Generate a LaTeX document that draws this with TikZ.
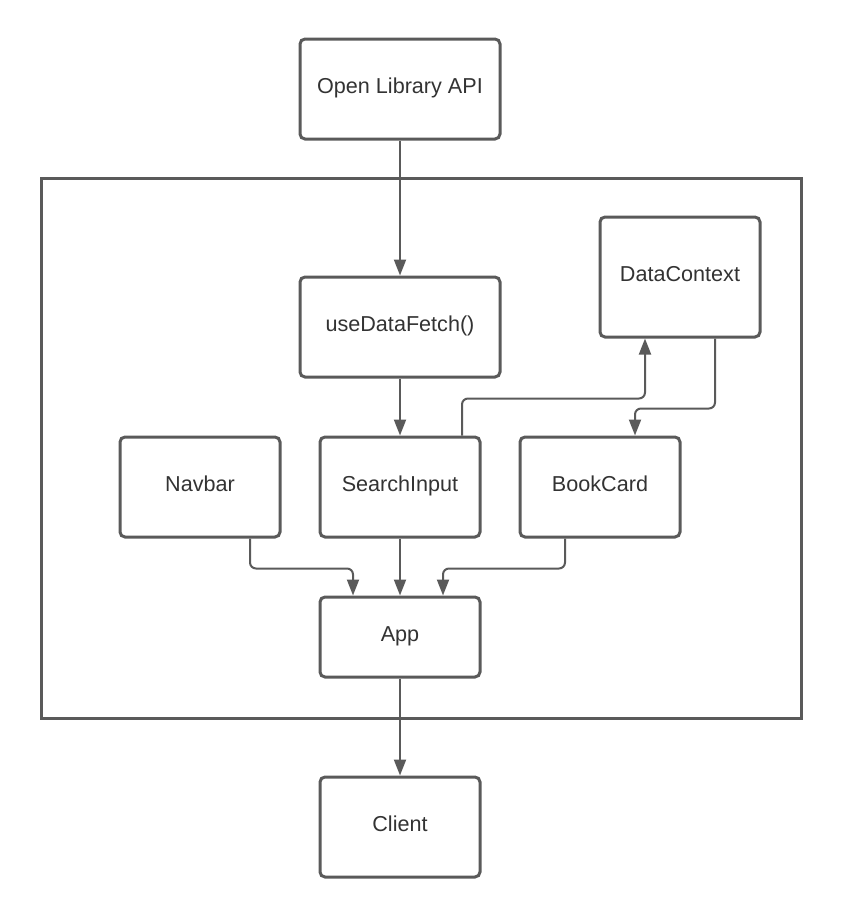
\documentclass[tikz,border=0pt]{standalone}
\usepackage{fontspec}
\setmainfont{Liberation Sans}
\usetikzlibrary{arrows.meta, calc}
\definecolor{linegray}{HTML}{5A5A5A}
\definecolor{textgray}{HTML}{333333}

\begin{document}
\begin{tikzpicture}[x=0.5pt,y=-0.5pt,
    box/.style={draw=linegray,line width=1.5pt,rounded corners=2.5pt,fill=white,
                text=textgray,font=\fontsize{10.8}{13}\selectfont,
                text height=8pt,text depth=3.5pt,
                minimum width=80pt,minimum height=50pt,inner sep=0pt},
    flow/.style={draw=linegray,line width=1pt,rounded corners=3pt,
                 -{Triangle[width=6pt,length=8pt]}}]
    \useasboundingbox (0,0) rectangle (843,917);
    \draw[linegray,line width=1.5pt] (41,178) rectangle (801,718);

    \node[box,minimum width=100pt] (api) at (400,89) {Open Library API};
    \node[box,minimum width=100pt] (fetch) at (400,327) {useDataFetch()};
    \node[box,minimum height=60pt] (context) at (680,277) {DataContext};
    \node[box] (nav) at (200,487) {Navbar};
    \node[box] (search) at (400,487) {SearchInput};
    \node[box] (card) at (600,487) {BookCard};
    \node[box,minimum height=40pt] (app) at (400,637) {App};
    \node[box,minimum height=50pt] (client) at (400,827) {Client};

    \path[flow] (api) -- (fetch);
    \path[flow] (fetch) -- (search);
    \path[flow] ($(search.north)+(62,0)$) -- ++(0,-37) -| ($(context.south)+(-35,0)$);
    \path[flow] ($(context.south)+(35,0)$) -- ++(0,70) -| ($(card.north)+(35,0)$);
    \path[flow] ($(nav.south)+(50,0)$) -- ++(0,30) -| ($(app.north)+(-47,0)$);
    \path[flow] (search) -- (app);
    \path[flow] ($(card.south)+(-35,0)$) -- ++(0,30) -| ($(app.north)+(43,0)$);
    \path[flow] (app) -- (client);
\end{tikzpicture}
\end{document}
